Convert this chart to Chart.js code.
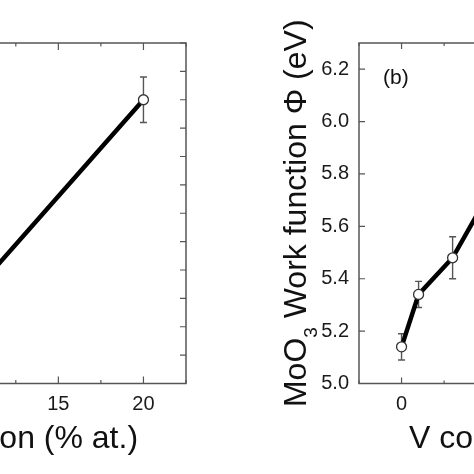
<!DOCTYPE html>
<html>
<head>
<meta charset="utf-8">
<script src="https://cdn.jsdelivr.net/npm/chart.js@4.4.0/dist/chart.umd.min.js"></script>
<style>
  html, body { margin: 0; padding: 0; background: #fff; }
  body { width: 474px; height: 474px; position: relative; overflow: hidden; }
  canvas { position: absolute; top: 0; }
  #left-panel { left: -400px; }
  #right-panel { left: 200px; }
</style>
</head>
<body>
<canvas id="left-panel" width="600" height="474"></canvas>
<canvas id="right-panel" width="600" height="474"></canvas>
<script>
// panel (a): only its right part is visible
const leftX = [0, 10, 20];
const leftY = [5.14, 5.42, 6.10];
const leftErr = [0.05, 0.06, 0.08];

// panel (b): V concentration, only its left part is visible
const rightX = [0, 1, 3, 5];
const rightY = [5.14, 5.34, 5.48, 5.71];
const rightErr = [0.05, 0.05, 0.08, 0.08];

const FONT = 'Arial, "Liberation Sans", sans-serif';

// box frame with inward ticks (major = labelled tick)
const boxTicks = {
  id: 'boxTicks',
  beforeDatasetsDraw(chart, args, opts) {
    const { ctx, chartArea: a, scales: { x, y } } = chart;
    ctx.save();
    ctx.strokeStyle = '#555';
    ctx.lineWidth = 1.5;
    ctx.strokeRect(a.left, a.top, a.width, a.height);
    ctx.lineWidth = 1.2;
    ctx.beginPath();
    x.ticks.forEach(t => {
      const px = x.getPixelForValue(t.value);
      const len = t.label ? opts.xMajor : opts.xMinor;
      ctx.moveTo(px, a.bottom); ctx.lineTo(px, a.bottom - len);
      ctx.moveTo(px, a.top); ctx.lineTo(px, a.top + len);
    });
    y.ticks.forEach(t => {
      const py = y.getPixelForValue(t.value);
      const len = t.label ? opts.yMajor : opts.yMinor;
      ctx.moveTo(a.left, py); ctx.lineTo(a.left + len, py);
      ctx.moveTo(a.right, py); ctx.lineTo(a.right - len, py);
    });
    ctx.stroke();
    ctx.restore();
  }
};

const errorBars = {
  id: 'errorBars',
  beforeDatasetsDraw(chart) {
    const { ctx, chartArea: a, scales: { x, y } } = chart;
    ctx.save();
    ctx.beginPath();
    ctx.rect(a.left, a.top, a.width, a.height);
    ctx.clip();
    ctx.strokeStyle = '#555';
    ctx.lineWidth = 1.4;
    chart.data.datasets.forEach(ds => {
      ds.data.forEach((p, i) => {
        const e = ds.errors[i];
        const px = x.getPixelForValue(p.x);
        const y1 = y.getPixelForValue(p.y - e);
        const y2 = y.getPixelForValue(p.y + e);
        ctx.beginPath();
        ctx.moveTo(px, y1); ctx.lineTo(px, y2);
        ctx.moveTo(px - 3.5, y1); ctx.lineTo(px + 3.5, y1);
        ctx.moveTo(px - 3.5, y2); ctx.lineTo(px + 3.5, y2);
        ctx.stroke();
      });
    });
    ctx.restore();
  }
};

// rotated y title with a subscript, and the panel letter
const panelText = {
  id: 'panelText',
  afterDraw(chart, args, opts) {
    const { ctx, chartArea: a } = chart;
    ctx.save();
    ctx.fillStyle = '#111';
    if (opts.letter) {
      ctx.font = '21px ' + FONT;
      ctx.textBaseline = 'middle';
      ctx.textAlign = 'left';
      ctx.fillText(opts.letter, a.left + 24, a.top + 35);
    }
    if (opts.yTitle) {
      ctx.translate(a.left - opts.yTitleGap, (a.top + a.bottom) / 2);
      ctx.rotate(-Math.PI / 2);
      ctx.textBaseline = 'alphabetic';
      ctx.textAlign = 'left';
      let total = 0;
      opts.yTitle.forEach(p => {
        ctx.font = (p.sub ? '19px ' : '32px ') + FONT;
        total += ctx.measureText(p.t).width;
      });
      let cx = -total / 2;
      opts.yTitle.forEach(p => {
        ctx.font = (p.sub ? '19px ' : '32px ') + FONT;
        ctx.fillText(p.t, cx, p.sub ? 11 : 0);
        cx += ctx.measureText(p.t).width;
      });
    }
    ctx.restore();
  }
};

function makePanel(id, xs, ys, errs, o) {
  return new Chart(document.getElementById(id), {
    type: 'line',
    data: {
      datasets: [{
        data: xs.map((x, i) => ({ x: x, y: ys[i] })),
        errors: errs,
        borderColor: '#000',
        borderWidth: 4.5,
        tension: 0,
        pointRadius: 5,
        pointBackgroundColor: '#fff',
        pointBorderColor: '#333',
        pointBorderWidth: 1.3
      }]
    },
    options: {
      responsive: false,
      animation: false,
      layout: { padding: { top: 43, right: o.padRight, left: 0, bottom: 0 } },
      plugins: {
        legend: { display: false },
        tooltip: { enabled: false },
        boxTicks: o.ticks,
        panelText: { letter: o.letter, yTitle: o.yTitle, yTitleGap: 53 }
      },
      scales: {
        x: {
          type: 'linear',
          min: -2.5,
          max: 22.5,
          grid: { display: false, drawTicks: false },
          border: { display: false },
          ticks: {
            stepSize: 2.5,
            autoSkip: false,
            maxRotation: 0,
            padding: 9,
            color: '#1a1a1a',
            font: { size: 20, family: FONT },
            callback: v => (v % 5 === 0 ? String(v) : '')
          },
          title: {
            display: true,
            text: o.xTitle,
            color: '#111',
            font: { size: 32, family: FONT },
            padding: { top: 0, bottom: 16 }
          },
          afterFit: s => { s.height = 90.5; }
        },
        y: {
          min: o.yMin,
          max: o.yMax,
          grid: { display: false, drawTicks: false },
          border: { display: false },
          ticks: {
            stepSize: 0.1,
            padding: 10,
            color: '#1a1a1a',
            font: { size: 20, family: FONT },
            callback: v => (Math.round(v * 10) % 2 === 0 ? v.toFixed(1) : '')
          },
          afterFit: s => { s.width = o.yWidth; }
        }
      }
    },
    plugins: [boxTicks, errorBars, panelText]
  });
}

makePanel('left-panel', leftX, leftY, leftErr, {
  padRight: 14,
  yWidth: 160.5,
  yMin: 5.1,
  yMax: 6.3,
  xTitle: 'Ti concentration (% at.)',
  ticks: { xMajor: 7, xMinor: 3.5, yMajor: 6, yMinor: 6 },
  letter: '(a)',
  yTitle: [{ t: 'MoO' }, { t: '3', sub: true }, { t: ' Work function \u03A6 (eV)' }]
});

makePanel('right-panel', rightX, rightY, rightErr, {
  padRight: 15.5,
  yWidth: 159,
  yMin: 5.0,
  yMax: 6.3,
  xTitle: 'V concentration (% at.)',
  ticks: { xMajor: 6, xMinor: 3, yMajor: 6, yMinor: 3 },
  letter: '(b)',
  yTitle: [{ t: 'MoO' }, { t: '3', sub: true }, { t: ' Work function \u03A6 (eV)' }]
});
</script>
</body>
</html>
